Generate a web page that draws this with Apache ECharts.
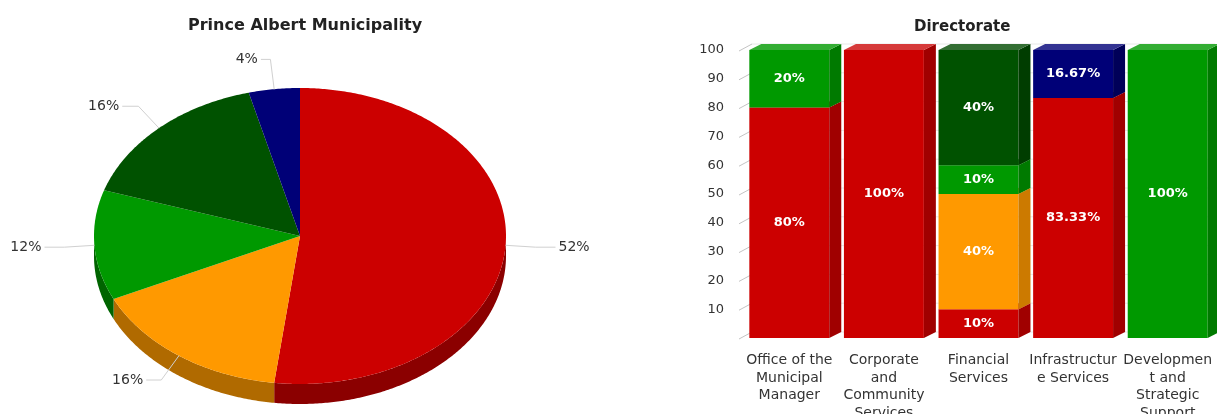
<!DOCTYPE html>
<html><head><meta charset="utf-8">
<script src="https://cdn.jsdelivr.net/npm/echarts@6/dist/echarts.min.js"></script>
<style>html,body{margin:0;padding:0;background:#fff}#c{width:1217px;height:414px}</style>
</head><body><div id="c"></div>
<script>
// ---- data ----
const pieTitle = 'Prince Albert Municipality';
const barTitle = 'Directorate';
const pieValues = [52, 16, 12, 16, 4];
const categories = ['Office of the Municipal Manager', 'Corporate and Community Services', 'Financial Services', 'Infrastructure Services', 'Development and Strategic Support'];
const tickLabels = ['Office of the\nMunicipal\nManager', 'Corporate\nand\nCommunity\nServices', 'Financial\nServices', 'Infrastructur\ne Services', 'Developmen\nt and\nStrategic\nSupport'];
const redValues = [80, 100, 10, 83.33, 0];
const orangeValues = [0, 0, 40, 0, 0];
const greenValues = [20, 0, 10, 0, 100];
const darkGreenValues = [0, 0, 40, 0, 0];
const navyValues = [0, 0, 0, 16.67, 0];
const yTicks = [0, 10, 20, 30, 40, 50, 60, 70, 80, 90, 100];

// ---- styles ----
const faceColors = ['#CC0000', '#FF9900', '#009900', '#005200', '#000077'];
const pieSideColors = ['#8B0000', '#B06A00', '#006400', '#003300', '#000050'];
const barSideColors = ['#A00000', '#CC7A00', '#007A00', '#003D00', '#000058'];
const barTopColors = ['#D63A3A', '#FFAD33', '#33AD33', '#336E33', '#333392'];
const FONT = 'DejaVu Sans, Verdana, sans-serif';
const DX = 12, DY = -6;

// ---- build pie items ----
const pieTotal = pieValues.reduce((a, b) => a + b, 0);
let cum = 0;
const pieData = pieValues.map((v, i) => { const d = [v, cum, i]; cum += v; return d; });

// ---- build stacked bar segments ----
const stackSeries = [redValues, orangeValues, greenValues, darkGreenValues, navyValues];
const base = categories.map(() => 0);
const barData = [];
stackSeries.forEach((arr, s) => {
  arr.forEach((v, i) => {
    if (v > 0) { barData.push([i, base[i], base[i] + v, s, v]); base[i] += v; }
  });
});
const gridData = yTicks.map(t => [0, t]);

function renderPie(params, api) {
  const v = api.value(0), s = api.value(1), idx = api.value(2);
  const cx = 300, cy = 236, rx = 206, ry = 148, depth = 20;
  const a0 = s / pieTotal * Math.PI * 2, a1 = (s + v) / pieTotal * Math.PI * 2;
  const pt = (t, dy) => [cx + rx * Math.sin(t), cy - ry * Math.cos(t) + (dy || 0)];
  const steps = Math.max(4, Math.ceil((a1 - a0) / 0.01));
  const top = [[cx, cy]];
  for (let k = 0; k <= steps; k++) top.push(pt(a0 + (a1 - a0) * k / steps));
  const children = [{ type: 'polygon', shape: { points: top }, style: { fill: faceColors[idx] }, z2: 10 }];
  const lo = Math.max(a0, Math.PI / 2), hi = Math.min(a1, Math.PI * 1.5);
  if (lo < hi) {
    const side = [];
    const n = Math.max(4, Math.ceil((hi - lo) / 0.01));
    for (let k = 0; k <= n; k++) side.push(pt(lo + (hi - lo) * k / n));
    for (let k = n; k >= 0; k--) side.push(pt(lo + (hi - lo) * k / n, depth));
    children.push({ type: 'polygon', shape: { points: side }, style: { fill: pieSideColors[idx] }, z2: 1 });
  }
  const m = (a0 + a1) / 2;
  const sn = Math.sin(m), cs = Math.cos(m);
  const P = pt(m);
  const E = [cx + (rx + 30) * sn, cy - (ry + 30) * cs];
  const dir = sn >= 0 ? 1 : -1;
  const h = 8 + 12 * Math.abs(sn);
  const F = [E[0] + dir * h, E[1]];
  children.push({ type: 'polyline', shape: { points: [P, E, F] }, style: { stroke: '#d0d0d0', lineWidth: 1, fill: null }, z2: 20 });
  children.push({ type: 'text', x: F[0] + dir * 3, y: F[1], style: { text: v + '%', fill: '#333', font: '14px ' + FONT, align: dir > 0 ? 'left' : 'right', verticalAlign: 'middle' }, z2: 20 });
  return { type: 'group', children };
}

function renderGrid(params, api) {
  const cs = params.coordSys;
  const y = api.coord([0, api.value(1)])[1];
  return {
    type: 'group',
    children: [
      { type: 'line', shape: { x1: cs.x - 3, y1: y + 1, x2: cs.x + DX - 2, y2: y + DY }, style: { stroke: '#c4c4c4', lineWidth: 1 } },
      { type: 'line', shape: { x1: cs.x + DX - 2, y1: y + DY, x2: cs.x + cs.width, y2: y + DY }, style: { stroke: '#e8e8e8', lineWidth: 1 } }
    ]
  };
}

function renderBar(params, api) {
  const i = api.value(0), y0 = api.value(1), y1 = api.value(2), s = api.value(3), v = api.value(4);
  const p0 = api.coord([i, y0]), p1 = api.coord([i, y1]);
  const bw = api.size([1, 0])[0] * 0.845;
  const x0 = p0[0] - bw / 2, x1 = p0[0] + bw / 2;
  const yb = p0[1], yt = p1[1];
  return {
    type: 'group',
    children: [
      { type: 'rect', shape: { x: x0, y: yt, width: bw, height: yb - yt }, style: { fill: faceColors[s] } },
      { type: 'polygon', shape: { points: [[x1, yb], [x1, yt], [x1 + DX, yt + DY], [x1 + DX, yb + DY]] }, style: { fill: barSideColors[s] } },
      { type: 'polygon', shape: { points: [[x0, yt], [x1, yt], [x1 + DX, yt + DY], [x0 + DX, yt + DY]] }, style: { fill: barTopColors[s] } },
      { type: 'text', x: p0[0], y: (yb + yt) / 2, style: { text: v + '%', fill: '#fff', font: 'bold 13px ' + FONT, align: 'center', verticalAlign: 'middle' }, z2: 50 }
    ]
  };
}

const chart = echarts.init(document.getElementById('c'), null, { renderer: 'canvas' });
chart.setOption({
  animation: false,
  backgroundColor: '#fff',
  title: [
    { text: pieTitle, left: 183, top: 13, textStyle: { fontFamily: FONT, fontSize: 16, fontWeight: 'bold', color: '#222' } },
    { text: barTitle, left: 909, top: 15, textStyle: { fontFamily: FONT, fontSize: 15, fontWeight: 'bold', color: '#222' } }
  ],
  grid: { left: 742, right: 2, top: 50, bottom: 76, outerBoundsMode: 'none', containLabel: false },
  xAxis: {
    type: 'category', data: categories,
    axisLine: { show: false }, axisTick: { show: false },
    axisLabel: { interval: 0, margin: 14, formatter: (val, idx) => tickLabels[idx], fontFamily: FONT, fontSize: 14, lineHeight: 17.5, color: '#333' }
  },
  yAxis: {
    type: 'value', min: yTicks[0], max: yTicks[yTicks.length - 1], interval: yTicks[1] - yTicks[0],
    axisLine: { show: false }, axisTick: { show: false },
    splitLine: { show: false },
    axisLabel: { margin: 18, formatter: v => (v === 0 ? '' : String(v)), fontFamily: FONT, fontSize: 13, color: '#333' }
  },
  series: [
    { type: 'custom', coordinateSystem: 'none', renderItem: renderPie, data: pieData, silent: true },
    { type: 'custom', renderItem: renderGrid, data: gridData, encode: { x: 0, y: 1 }, silent: true, z: 1 },
    { type: 'custom', renderItem: renderBar, data: barData, encode: { x: 0, y: [1, 2] }, silent: true, z: 2 }
  ]
});
</script></body></html>
